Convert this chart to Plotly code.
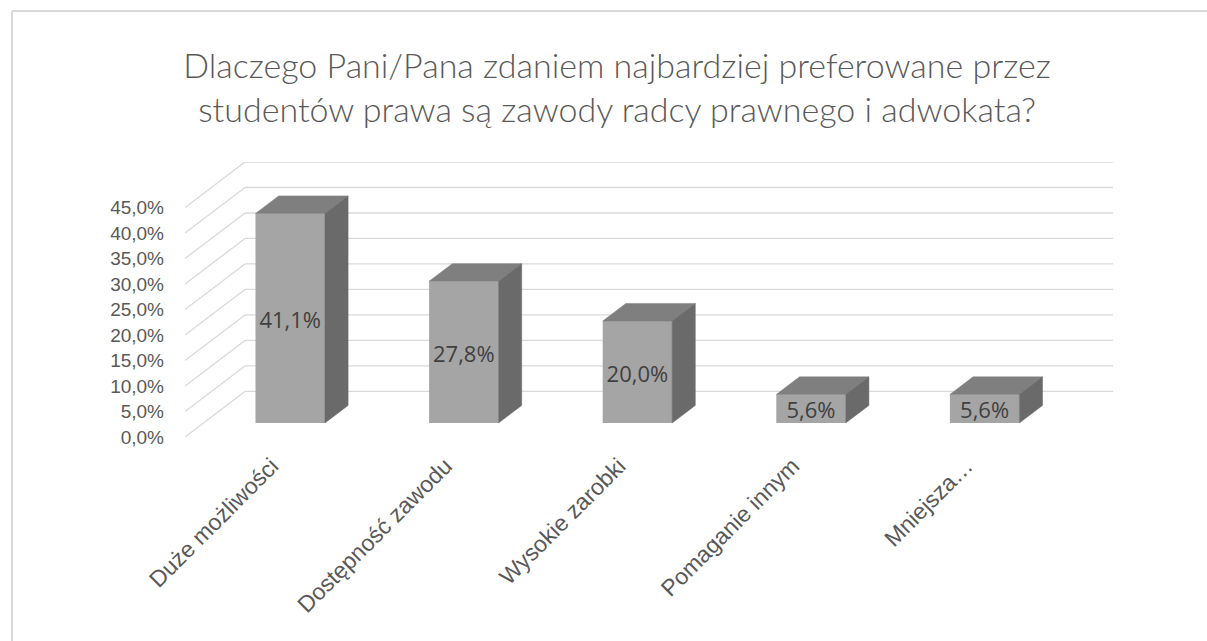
import plotly.graph_objects as go

# ---- data ----
categories = ["Duże możliwości", "Dostępność zawodu", "Wysokie zarobki", "Pomaganie innym", "Mniejsza…"]
values = [41.1, 27.8, 20.0, 5.6, 5.6]
y_ticks = [0, 5, 10, 15, 20, 25, 30, 35, 40, 45]
title_text = ("Dlaczego Pani/Pana zdaniem najbardziej preferowane przez<br>"
              "studentów prawa są zawody radcy prawnego i adwokata?")

def pct(v):
    return f"{v:.1f}%".replace(".", ",")

# ---- 3D projection constants (axis units) ----
DX = 0.3456   # depth offset along x (category units)
DY = 8.94     # depth offset along y (percent units)
D0, D1 = 0.307, 0.693   # bar depth span
HW = 0.2                 # half bar width
LABEL_SHIFT = -0.8       # small downward nudge for data labels (percent units)

W, H = 1207, 641
ML, MR, MT, MB = 185, 94, 162, 204

n = len(categories)
idx = list(range(n))

fig = go.Figure()

# gridlines (left wall diagonals + back wall horizontals) as shapes below traces
shapes = []
for v in y_ticks:
    shapes.append(dict(type="line", xref="x", yref="y", layer="below",
                       x0=-0.5, y0=v, x1=-0.5 + DX, y1=v + DY,
                       line=dict(color="#d9d9d9", width=1.3)))
    shapes.append(dict(type="line", xref="x", yref="y", layer="below",
                       x0=-0.5 + DX, y0=v + DY, x1=n - 0.5 + DX, y1=v + DY,
                       line=dict(color="#d9d9d9", width=1.3)))

# chart border (light grey frame)
px_w = W - ML - MR
px_h = H - MT - MB
def px2paper_x(px):
    return (px - ML) / px_w
def px2paper_y(py):
    return 1 + (MT - py) / px_h
shapes.append(dict(type="line", xref="paper", yref="paper", layer="below",
                   x0=px2paper_x(12), y0=px2paper_y(11), x1=px2paper_x(12), y1=px2paper_y(660),
                   line=dict(color="#d9d9d9", width=2)))
shapes.append(dict(type="line", xref="paper", yref="paper", layer="below",
                   x0=px2paper_x(12), y0=px2paper_y(11), x1=px2paper_x(1220), y1=px2paper_y(11),
                   line=dict(color="#d9d9d9", width=2)))

# front faces
fig.add_trace(go.Bar(
    x=[i + D0 * DX for i in idx], y=values, base=D0 * DY, width=2 * HW,
    marker=dict(color="#a5a5a5", line=dict(width=0)),
    hoverinfo="skip", showlegend=False))

# top and side faces
top_x, top_y, side_x, side_y = [], [], [], []
for i, v in zip(idx, values):
    xl0, xr0 = i - HW + D0 * DX, i + HW + D0 * DX
    xl1, xr1 = i - HW + D1 * DX, i + HW + D1 * DX
    t0, t1 = v + D0 * DY, v + D1 * DY
    b0, b1 = D0 * DY, D1 * DY
    top_x += [xl0, xr0, xr1, xl1, xl0, None]
    top_y += [t0, t0, t1, t1, t0, None]
    side_x += [xr0, xr1, xr1, xr0, xr0, None]
    side_y += [b0, b1, t1, t0, b0, None]

fig.add_trace(go.Scatter(x=top_x, y=top_y, mode="lines", fill="toself",
                         fillcolor="#7f7f7f", line=dict(color="#7f7f7f", width=0.5),
                         hoverinfo="skip", showlegend=False))
fig.add_trace(go.Scatter(x=side_x, y=side_y, mode="lines", fill="toself",
                         fillcolor="#6a6a6a", line=dict(color="#6a6a6a", width=0.5),
                         hoverinfo="skip", showlegend=False))

# data labels
fig.add_trace(go.Scatter(
    x=[i + D0 * DX for i in idx], y=[D0 * DY + v / 2 + LABEL_SHIFT for v in values],
    mode="text", text=[pct(v) for v in values],
    textfont=dict(family="Open Sans", size=22, color="#404040"),
    hoverinfo="skip", showlegend=False))

fig.update_layout(
    width=W, height=H,
    margin=dict(l=ML, r=MR, t=MT, b=MB),
    paper_bgcolor="white", plot_bgcolor="white",
    separators=", ",
    shapes=shapes,
    title=dict(text=title_text, xref="container", yref="container",
               x=617 / W, y=1 - 78 / H, xanchor="center", yanchor="middle",
               font=dict(family="Lato", size=34, color="#595959", weight=300)),
    xaxis=dict(range=[-0.5, n - 0.5 + DX], tickvals=idx, ticktext=categories,
               tickangle=-45, showgrid=False, zeroline=False, showline=False,
               ticks="", ticklabelstandoff=10,
               tickfont=dict(family="Liberation Sans", size=23, color="#595959")),
    yaxis=dict(range=[0, max(y_ticks) + DY], tickvals=y_ticks,
               ticktext=[pct(v) for v in y_ticks],
               showgrid=False, zeroline=False,
               showline=False, ticks="", ticklabelstandoff=20,
               tickfont=dict(family="Liberation Sans", size=19, color="#595959")),
)

fig.write_html("out.html", config={"displayModeBar": False},
               post_script="document.body.style.margin='0';")
